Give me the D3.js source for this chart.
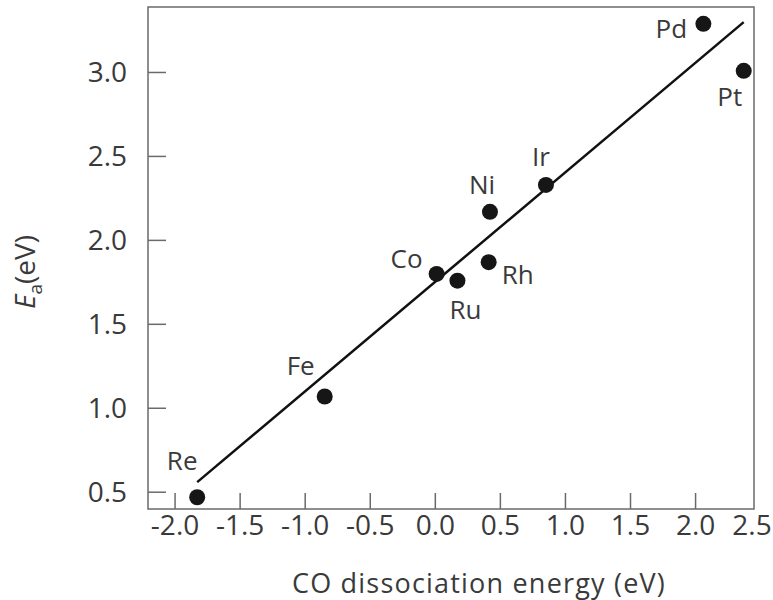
<!DOCTYPE html>
<html>
<head>
<meta charset="utf-8">
<script src="https://cdn.jsdelivr.net/npm/d3@7"></script>
<style>
body { margin: 0; background: #fff; }
text { font-family: "Open Sans", sans-serif; fill: #3a3a3a; }
</style>
</head>
<body>
<svg id="chart" width="773" height="600"></svg>
<script>
// metals and their values
var metals = ['Re', 'Fe', 'Co', 'Ru', 'Rh', 'Ni', 'Ir', 'Pd', 'Pt'];
var coEnergy = [-1.83, -0.85, 0.01, 0.17, 0.41, 0.42, 0.85, 2.06, 2.37];
var activation = [0.47, 1.07, 1.80, 1.76, 1.87, 2.17, 2.33, 3.29, 3.01];
var fitX = [-1.83, 2.37];
var fitY = [0.56, 3.30];
var xTicks = [-2.0, -1.5, -1.0, -0.5, 0.0, 0.5, 1.0, 1.5, 2.0, 2.5];
var yTicks = [0.5, 1.0, 1.5, 2.0, 2.5, 3.0];

// label placement relative to each dot
var labelPos = {
	Re: [-15, -27], Fe: [-24, -22], Co: [-30, -6], Ru: [8, 38], Rh: [29, 22],
	Ni: [-8, -18], Ir: [-5, -19], Pd: [-32, 14], Pt: [-14, 35]
};

var svg = d3.select('#chart');
var plotL = 148, plotR = 754, plotT = 7, plotB = 509;

var x = d3.scaleLinear().domain([-2.208, 2.449]).range([plotL, plotR]);
var y = d3.scaleLinear().domain([0.40, 3.39]).range([plotB, plotT]);

// frame
svg.append('rect')
	.attr('x', plotL).attr('y', plotT)
	.attr('width', plotR - plotL).attr('height', plotB - plotT)
	.style('fill', 'none').style('stroke', '#6a6a6a').style('stroke-width', 1.5);

// x ticks
svg.selectAll('.xtick')
	.data(xTicks.filter(function(d) { return x(d) < plotR; }))
	.enter().append('line')
	.attr('x1', function(d) { return x(d); })
	.attr('x2', function(d) { return x(d); })
	.attr('y1', plotB).attr('y2', plotB - 16)
	.style('stroke', '#6a6a6a').style('stroke-width', 1.5);

svg.selectAll('.xlabel')
	.data(xTicks)
	.enter().append('text')
	.attr('x', function(d) { return Math.min(x(d), 752); })
	.attr('y', 535)
	.attr('text-anchor', 'middle')
	.style('font-size', '28px')
	.text(function(d) { return d3.format('.1f')(d).replace('\u2212', '-'); });

// y ticks
svg.selectAll('.ytick')
	.data(yTicks)
	.enter().append('line')
	.attr('x1', plotL).attr('x2', plotL + 18)
	.attr('y1', function(d) { return y(d); })
	.attr('y2', function(d) { return y(d); })
	.style('stroke', '#6a6a6a').style('stroke-width', 1.5);

svg.selectAll('.ylabel')
	.data(yTicks)
	.enter().append('text')
	.attr('x', plotL - 21)
	.attr('y', function(d) { return y(d) + 10; })
	.attr('text-anchor', 'end')
	.style('font-size', '28px')
	.text(function(d) { return d3.format('.1f')(d); });

// axis titles
svg.append('text')
	.attr('x', 479).attr('y', 593)
	.attr('text-anchor', 'middle')
	.style('font-size', '27px')
	.style('letter-spacing', '1.2px')
	.text('CO dissociation energy (eV)');

var yt = svg.append('text')
	.attr('transform', 'translate(35,272) rotate(-90)')
	.attr('text-anchor', 'middle')
	.style('font-size', '28px');
yt.append('tspan').style('font-style', 'italic').text('E');
yt.append('tspan').attr('dy', 7).style('font-size', '19px').text('a');
yt.append('tspan').attr('dy', -7).text('(eV)');

// fit line
svg.append('line')
	.attr('x1', x(fitX[0])).attr('y1', y(fitY[0]))
	.attr('x2', x(fitX[1])).attr('y2', y(fitY[1]))
	.style('stroke', '#111').style('stroke-width', 2.5);

// points
svg.selectAll('.dot')
	.data(metals)
	.enter().append('circle')
	.attr('class', 'dot')
	.attr('cx', function(d, i) { return x(coEnergy[i]); })
	.attr('cy', function(d, i) { return y(activation[i]); })
	.attr('r', 8)
	.style('fill', '#161616');

svg.selectAll('.name')
	.data(metals)
	.enter().append('text')
	.attr('x', function(d, i) { return x(coEnergy[i]) + labelPos[d][0]; })
	.attr('y', function(d, i) { return y(activation[i]) + labelPos[d][1]; })
	.attr('text-anchor', 'middle')
	.style('font-size', '26px')
	.text(function(d) { return d; });
</script>
</body>
</html>
